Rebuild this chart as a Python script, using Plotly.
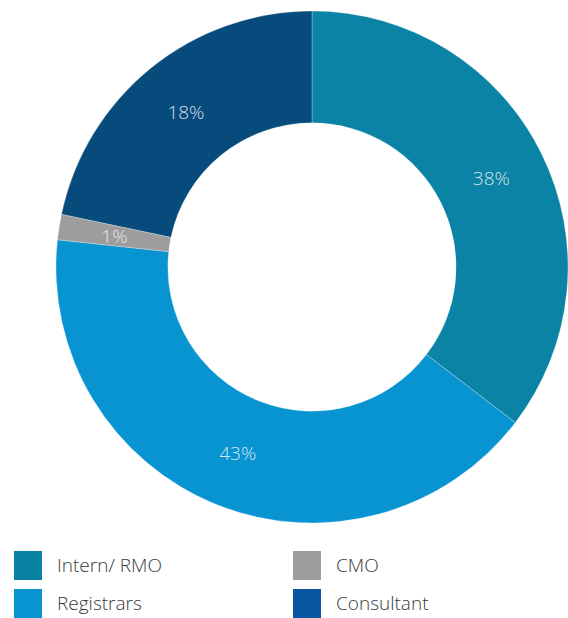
import plotly.graph_objects as go

# Data
categories = ["Intern/ RMO", "Registrars", "CMO", "Consultant"]
shares = [35.4, 41.3, 1.6, 21.7]          # arc sizes
pct_labels = ["38%", "43%", "1%", "18%"]   # printed labels
slice_colors = ["#0a83a4", "#0894d1", "#9d9d9d", "#074b7c"]
legend_colors = ["#0a83a3", "#0894d0", "#9d9d9d", "#0a55a0"]

W, H = 568, 618
cx, cy, R = 312, 267, 256
HOLE = 0.563
label_font = dict(family="Open Sans", size=19, color="rgba(235,240,245,0.9)", weight=300)
domain = dict(x=[(cx - R) / W, 1.0], y=[(H - cy - R) / H, (H - cy + R) / H])

# labels of big slices drawn by the pie itself; the thin CMO slice label is
# drawn by an invisible helper ring whose middle slice is centred on CMO
small = [i for i, s in enumerate(shares) if s < 5]
main_text = [("" if i in small else t) for i, t in enumerate(pct_labels)]

fig = go.Figure(go.Pie(
    labels=categories,
    values=shares,
    text=main_text,
    textinfo="text",
    textposition="inside",
    insidetextorientation="horizontal",
    sort=False,
    direction="clockwise",
    rotation=0,
    hole=HOLE,
    marker=dict(colors=slice_colors, line=dict(color="rgba(255,255,255,0.35)", width=0.8)),
    textfont=label_font,
    domain=domain,
    showlegend=False,
    hoverinfo="label+percent",
))

pad = 12.0
for i in small:
    before = sum(shares[:i])
    after = sum(shares[i + 1:])
    fig.add_trace(go.Pie(
        values=[before - pad, shares[i] + 2 * pad, after - pad],
        labels=["a", "b", "c"],
        text=["", pct_labels[i], ""],
        textinfo="text",
        textposition="inside",
        insidetextorientation="horizontal",
        sort=False,
        direction="clockwise",
        rotation=0,
        hole=HOLE,
        marker=dict(colors=["rgba(0,0,0,0)"] * 3, line=dict(width=0)),
        textfont=label_font,
        domain=domain,
        showlegend=False,
        hoverinfo="skip",
    ))

# Custom 2-column legend
legend_layout = [  # (col x start px, row center y px)
    (14, 565), (14, 603), (293, 565), (293, 603)
]
shapes = []
annotations = []
for i in range(len(categories)):
    x0, yc = legend_layout[i]
    shapes.append(dict(type="rect", xref="paper", yref="paper",
                       x0=x0 / W, x1=(x0 + 28) / W,
                       y0=(H - yc - 15) / H, y1=(H - yc + 14) / H,
                       fillcolor=legend_colors[i], line=dict(width=0)))
    annotations.append(dict(text=categories[i], xref="paper", yref="paper",
                            x=(x0 + 41) / W, y=(H - yc) / H,
                            xanchor="left", yanchor="middle", showarrow=False,
                            font=dict(family="Open Sans", size=19, color="#3a3a3a", weight=300)))

fig.update_layout(
    width=W, height=H,
    margin=dict(l=0, r=0, t=0, b=0),
    paper_bgcolor="white",
    plot_bgcolor="white",
    shapes=shapes,
    annotations=annotations,
    uniformtext=dict(minsize=19, mode="show"),
)

fig.write_html(
    "out.html",
    config={"displayModeBar": False},
    post_script="document.body.style.margin='0';document.body.style.overflow='hidden';",
)
